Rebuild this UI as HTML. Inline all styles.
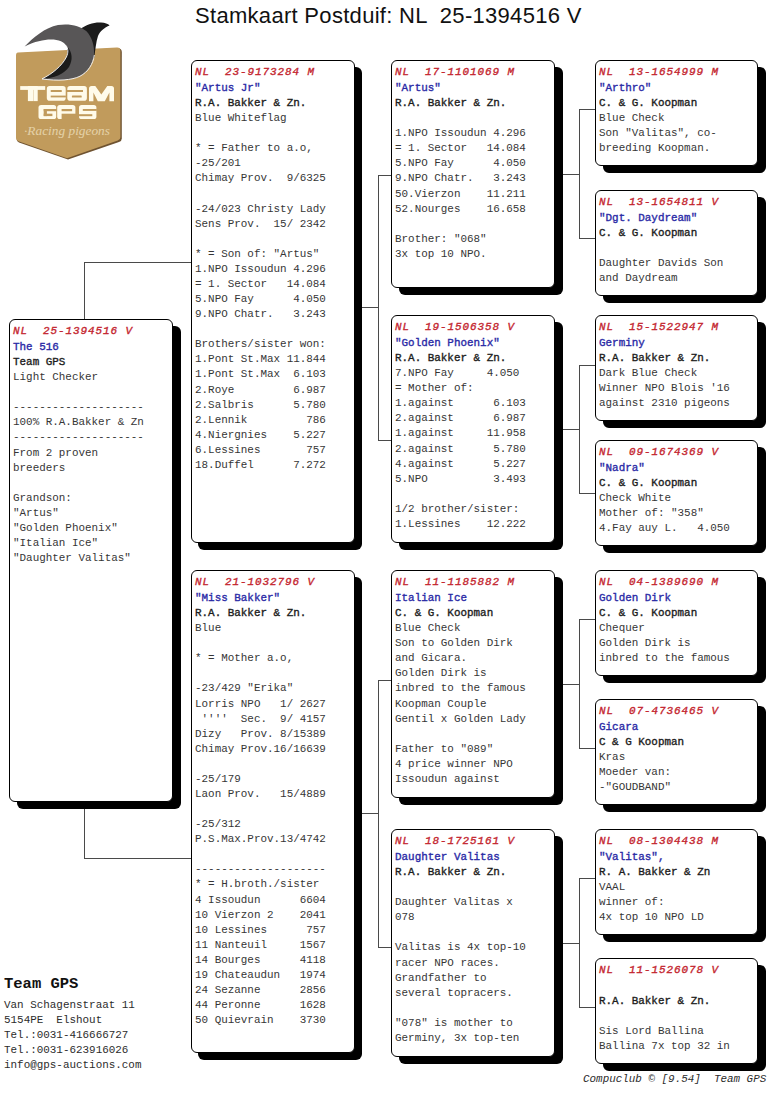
<!DOCTYPE html>
<html><head><meta charset="utf-8"><title>Stamkaart</title>
<style>
html,body{margin:0;padding:0;background:#fff}
body{width:768px;height:1103px;position:relative;overflow:hidden}
.b{position:absolute;box-sizing:border-box;border:1px solid #000;border-radius:6px;box-shadow:8px 7px 0 0 #000;background:#fff;
font-family:"Liberation Mono",monospace;font-size:10.92px;line-height:15.09px;white-space:pre;color:#363636;padding:4px 0 0 3px;overflow:hidden}
.b div{height:15.09px}
.b div.r{color:#c42630;font-weight:normal;-webkit-text-stroke:0.35px #c42630;font-style:italic;letter-spacing:0.95px;height:16px;line-height:15px}
.n{color:#2a2aa6;-webkit-text-stroke:0.35px #2a2aa6}
.o{color:#1c1c1c;-webkit-text-stroke:0.35px #1c1c1c}
.hl,.vl{position:absolute;background:#4a4a4a}
.hl{height:1px}.vl{width:1px}
.t{position:absolute;font-family:"Liberation Sans",sans-serif;font-size:22px;letter-spacing:0.3px;line-height:24px;white-space:pre;color:#111}
.m{position:absolute;font-family:"Liberation Mono",monospace;font-size:10.92px;line-height:15.09px;white-space:pre;color:#2c2c2c}
</style></head><body>

<div class="vl" style="left:84px;top:262px;height:597px"></div>
<div class="hl" style="left:84px;top:262px;width:108px"></div>
<div class="hl" style="left:84px;top:858px;width:108px"></div>
<div class="hl" style="left:355px;top:307px;width:24px"></div>
<div class="vl" style="left:378px;top:175px;height:266px"></div>
<div class="hl" style="left:378px;top:175px;width:14px"></div>
<div class="hl" style="left:378px;top:440px;width:14px"></div>
<div class="hl" style="left:355px;top:813px;width:24px"></div>
<div class="vl" style="left:378px;top:680px;height:268px"></div>
<div class="hl" style="left:378px;top:680px;width:14px"></div>
<div class="hl" style="left:378px;top:947px;width:14px"></div>
<div class="hl" style="left:555px;top:174px;width:25px"></div>
<div class="vl" style="left:579px;top:109px;height:130px"></div>
<div class="hl" style="left:579px;top:109px;width:17px"></div>
<div class="hl" style="left:579px;top:238px;width:17px"></div>
<div class="hl" style="left:555px;top:429px;width:25px"></div>
<div class="vl" style="left:579px;top:365px;height:129px"></div>
<div class="hl" style="left:579px;top:365px;width:17px"></div>
<div class="hl" style="left:579px;top:493px;width:17px"></div>
<div class="hl" style="left:555px;top:684px;width:25px"></div>
<div class="vl" style="left:579px;top:619px;height:130px"></div>
<div class="hl" style="left:579px;top:619px;width:17px"></div>
<div class="hl" style="left:579px;top:748px;width:17px"></div>
<div class="hl" style="left:555px;top:943px;width:25px"></div>
<div class="vl" style="left:579px;top:878px;height:130px"></div>
<div class="hl" style="left:579px;top:878px;width:17px"></div>
<div class="hl" style="left:579px;top:1007px;width:17px"></div>
<div class="b" style="left:9px;top:319px;width:164px;height:483px"><div class="r">NL  25-1394516 V</div><div class="n">The 516</div><div class="o">Team GPS</div><div>Light Checker</div><div></div><div>--------------------</div><div>100% R.A.Bakker &amp; Zn</div><div>--------------------</div><div>From 2 proven</div><div>breeders</div><div></div><div>Grandson:</div><div>"Artus"</div><div>"Golden Phoenix"</div><div>"Italian Ice"</div><div>"Daughter Valitas"</div></div>
<div class="b" style="left:191px;top:60px;width:164px;height:483px;box-shadow:7px 7px 0 0 #000"><div class="r">NL  23-9173284 M</div><div class="n">"Artus Jr"</div><div class="o">R.A. Bakker &amp; Zn.</div><div>Blue Whiteflag</div><div></div><div>* = Father to a.o,</div><div>-25/201</div><div>Chimay Prov.  9/6325</div><div></div><div>-24/023 Christy Lady</div><div>Sens Prov.  15/ 2342</div><div></div><div>* = Son of: "Artus"</div><div>1.NPO Issoudun 4.296</div><div>= 1. Sector   14.084</div><div>5.NPO Fay      4.050</div><div>9.NPO Chatr.   3.243</div><div></div><div>Brothers/sister won:</div><div>1.Pont St.Max 11.844</div><div>1.Pont St.Max  6.103</div><div>2.Roye         6.987</div><div>2.Salbris      5.780</div><div>2.Lennik         786</div><div>4.Niergnies    5.227</div><div>6.Lessines       757</div><div>18.Duffel      7.272</div></div>
<div class="b" style="left:191px;top:570px;width:164px;height:483px;box-shadow:7px 7px 0 0 #000"><div class="r">NL  21-1032796 V</div><div class="n">"Miss Bakker"</div><div class="o">R.A. Bakker &amp; Zn.</div><div>Blue</div><div></div><div>* = Mother a.o,</div><div></div><div>-23/429 "Erika"</div><div>Lorris NPO   1/ 2627</div><div> ''''  Sec.  9/ 4157</div><div>Dizy   Prov. 8/15389</div><div>Chimay Prov.16/16639</div><div></div><div>-25/179</div><div>Laon Prov.   15/4889</div><div></div><div>-25/312</div><div>P.S.Max.Prov.13/4742</div><div></div><div>--------------------</div><div>* = H.broth./sister</div><div>4 Issoudun      6604</div><div>10 Vierzon 2    2041</div><div>10 Lessines      757</div><div>11 Nanteuil     1567</div><div>14 Bourges      4118</div><div>19 Chateaudun   1974</div><div>24 Sezanne      2856</div><div>44 Peronne      1628</div><div>50 Quievrain    3730</div></div>
<div class="b" style="left:391px;top:60px;width:164px;height:228px"><div class="r">NL  17-1101069 M</div><div class="n">"Artus"</div><div class="o">R.A. Bakker &amp; Zn.</div><div></div><div>1.NPO Issoudun 4.296</div><div>= 1. Sector   14.084</div><div>5.NPO Fay      4.050</div><div>9.NPO Chatr.   3.243</div><div>50.Vierzon    11.211</div><div>52.Nourges    16.658</div><div></div><div>Brother: "068"</div><div>3x top 10 NPO.</div></div>
<div class="b" style="left:391px;top:315px;width:164px;height:228px"><div class="r">NL  19-1506358 V</div><div class="n">"Golden Phoenix"</div><div class="o">R.A. Bakker &amp; Zn.</div><div>7.NPO Fay     4.050</div><div>= Mother of:</div><div>1.against      6.103</div><div>2.against      6.987</div><div>1.against     11.958</div><div>2.against      5.780</div><div>4.against      5.227</div><div>5.NPO          3.493</div><div></div><div>1/2 brother/sister:</div><div>1.Lessines    12.222</div></div>
<div class="b" style="left:391px;top:570px;width:164px;height:228px"><div class="r">NL  11-1185882 M</div><div class="n">Italian Ice</div><div class="o">C. &amp; G. Koopman</div><div>Blue Check</div><div>Son to Golden Dirk</div><div>and Gicara.</div><div>Golden Dirk is</div><div>inbred to the famous</div><div>Koopman Couple</div><div>Gentil x Golden Lady</div><div></div><div>Father to "089"</div><div>4 price winner NPO</div><div>Issoudun against</div></div>
<div class="b" style="left:391px;top:829px;width:164px;height:228px"><div class="r">NL  18-1725161 V</div><div class="n">Daughter Valitas</div><div class="o">R.A. Bakker &amp; Zn.</div><div></div><div>Daughter Valitas x</div><div>078</div><div></div><div>Valitas is 4x top-10</div><div>racer NPO races.</div><div>Grandfather to</div><div>several topracers.</div><div></div><div>"078" is mother to</div><div>Germiny, 3x top-ten</div></div>
<div class="b" style="left:595px;top:60px;width:163px;height:106px"><div class="r">NL  13-1654999 M</div><div class="n">"Arthro"</div><div class="o">C. &amp; G. Koopman</div><div>Blue Check</div><div>Son "Valitas", co-</div><div>breeding Koopman.</div></div>
<div class="b" style="left:595px;top:190px;width:163px;height:106px"><div class="r">NL  13-1654811 V</div><div class="n">"Dgt. Daydream"</div><div class="o">C. &amp; G. Koopman</div><div></div><div>Daughter Davids Son</div><div>and Daydream</div></div>
<div class="b" style="left:595px;top:315px;width:163px;height:106px"><div class="r">NL  15-1522947 M</div><div class="n">Germiny</div><div class="o">R.A. Bakker &amp; Zn.</div><div>Dark Blue Check</div><div>Winner NPO Blois '16</div><div>against 2310 pigeons</div></div>
<div class="b" style="left:595px;top:440px;width:163px;height:106px"><div class="r">NL  09-1674369 V</div><div class="n">"Nadra"</div><div class="o">C. &amp; G. Koopman</div><div>Check White</div><div>Mother of: "358"</div><div>4.Fay auy L.   4.050</div></div>
<div class="b" style="left:595px;top:570px;width:163px;height:106px"><div class="r">NL  04-1389690 M</div><div class="n">Golden Dirk</div><div class="o">C. &amp; G. Koopman</div><div>Chequer</div><div>Golden Dirk is</div><div>inbred to the famous</div></div>
<div class="b" style="left:595px;top:699px;width:163px;height:106px"><div class="r">NL  07-4736465 V</div><div class="n">Gicara</div><div class="o">C &amp; G Koopman</div><div>Kras</div><div>Moeder van:</div><div>-"GOUDBAND"</div></div>
<div class="b" style="left:595px;top:829px;width:163px;height:106px"><div class="r">NL  08-1304438 M</div><div class="n">"Valitas",</div><div class="o">R. A. Bakker &amp; Zn</div><div>VAAL</div><div>winner of:</div><div>4x top 10 NPO LD</div></div>
<div class="b" style="left:595px;top:958px;width:163px;height:106px"><div class="r">NL  11-1526078 V</div><div class="n"></div><div class="o">R.A. Bakker &amp; Zn.</div><div></div><div>Sis Lord Ballina</div><div>Ballina 7x top 32 in</div></div>
<div class="t" style="left:195px;top:4px">Stamkaart Postduif: NL  25-1394516 V</div>
<div class="m" style="left:4px;top:977px;font-size:15.5px;font-weight:bold;color:#111">Team GPS</div>
<div class="m" style="left:4px;top:998px">Van Schagenstraat 11
5154PE  Elshout
Tel.:0031-416666727
Tel.:0031-623916026
info@gps-auctions.com</div>
<div class="m" style="left:583px;top:1072px;font-style:italic">Compuclub © [9.54]  Team GPS</div>
<svg style="position:absolute;left:0;top:0" width="140" height="170" viewBox="0 0 140 170">
<path d="M18.5 53.2 L117.5 48.2 Q121.8 48 121.8 52 L121.8 138.5 Q121.8 141 119 142 L68 159.6 L19 142.6 Q16.6 141.6 16.6 139 L16.6 56.6 Q16.6 53.3 18.5 53.2 Z" fill="#6f5331"/>
<path d="M18 52.6 L116.8 47.6 Q120.4 47.4 120.4 51 L120.4 137.2 Q120.4 139.6 117.8 140.5 L67 158.2 L18.4 141.3 Q16 140.4 16 137.8 L16 55.8 Q16 52.7 18 52.6 Z" fill="#c19b5c"/>
<path d="M80 29.5 C86 24.5 94 22.2 101 22.6 C105 22.9 108 24 109.6 25.4 C104.5 27.4 100 31 98 36 C96 42 95.4 50 94.2 58 L89 60 Z" fill="#1b1b1b"/>
<path d="M24.6 46.4 C33 37.5 45 27.5 58 24.9 C70 23.2 80 25.8 86.2 31 C92 36.8 94.6 46 94 54 C93.2 64 88 72 80 76.2 C72 80.2 58 81.2 42 78.9 C52 74 62 66 66.4 57 C69.4 50.5 67.4 44 61 41.2 C53 38 40 39 24.6 46.4 Z" fill="#585657"/>
<path d="M67 46.5 C72.5 52 73 60 69 67 C64 74 54 78.5 42 78.9 C52 74 62 66 66.4 57 C67.8 53.5 68 50 67 46.5 Z" fill="#1b1b1b"/>
<path d="M94.3 55 C93.2 64 88 72 80 76.2 C72 80.2 58 81.2 42 78.9 C52 74 62 66 66.4 57 C68.5 52.5 68.3 48.5 66 45.5" fill="none" stroke="#fff" stroke-width="0.9"/>
<g fill="#fffbea">
<rect x="20.2" y="86.1" width="25" height="3.8"/>
<rect x="27.9" y="86.1" width="9.8" height="15"/>
<rect x="46.8" y="86.1" width="18.9" height="14.6" rx="2.8"/>
<rect x="67.3" y="86.1" width="19.6" height="14.6" rx="2.8"/>
<path d="M89 101.2 L89 88.6 Q89 86 91.6 86 L95.3 86 L101.3 94.4 L107.3 86 L111.4 86 Q114 86 114 88.6 L114 101.2 L109.4 101.2 L109.4 92.6 L104.8 101.2 L97.8 101.2 L93.4 92.6 L93.4 101.2 Z"/>
<rect x="38.5" y="105.1" width="17.7" height="13.9" rx="2.6"/>
<rect x="57.2" y="105.1" width="18.2" height="13.9" rx="2.6"/>
<rect x="79" y="105.1" width="17.4" height="13.9" rx="2.6"/>
</g>
<g fill="#c19b5c">
<rect x="33.3" y="89.9" width="0.5" height="11.2" opacity="0.6"/>
<rect x="50.7" y="90" width="11.1" height="2" rx="0.6"/>
<rect x="50.7" y="95.6" width="15.2" height="1.8"/>
<rect x="67" y="90" width="16" height="2"/>
<rect x="71.9" y="95.6" width="9.8" height="1.9" rx="0.6"/>
<rect x="43.7" y="109" width="13" height="2.2"/>
<rect x="43.7" y="109" width="3.2" height="7.1"/>
<rect x="43.7" y="113.7" width="8.7" height="2.4"/>
<rect x="61.6" y="109" width="10.5" height="2.2"/>
<rect x="61.6" y="113.7" width="14.4" height="5.6"/>
<rect x="82.8" y="109" width="14" height="1.9"/>
<rect x="78.6" y="114.2" width="13.7" height="2"/>
</g>
<text x="67" y="135" text-anchor="middle" font-family="Liberation Serif" font-style="italic" font-size="11.5" fill="#f4e8c8" textLength="86" lengthAdjust="spacingAndGlyphs" opacity="0.7">&#183;Racing pigeons</text>
</svg>

</body></html>
